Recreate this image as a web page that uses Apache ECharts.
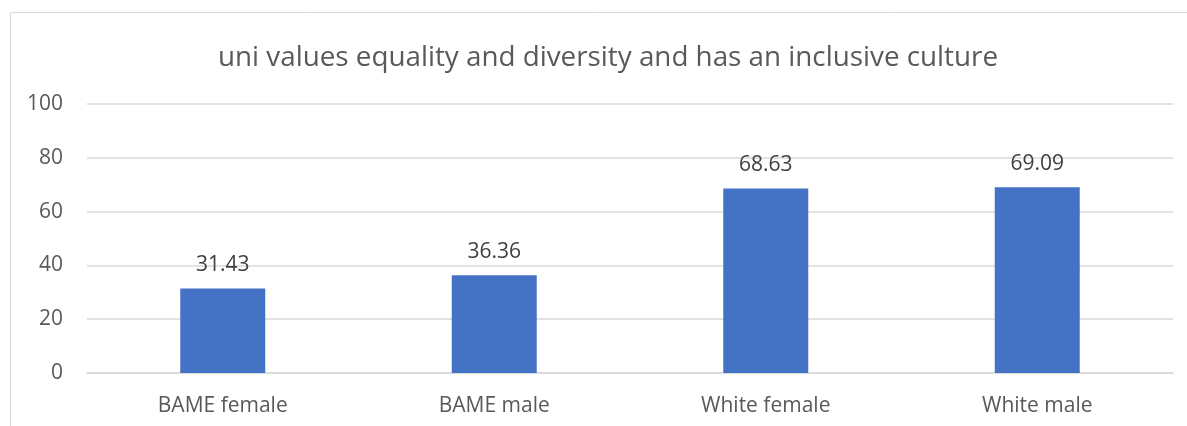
<!DOCTYPE html>
<html>
<head>
<meta charset="utf-8">
<script src="https://cdn.jsdelivr.net/npm/echarts@6/dist/echarts.min.js"></script>
<style>
  html, body { margin: 0; padding: 0; background: #fff; }
  #chart { width: 1187px; height: 426px; }
</style>
</head>
<body>
<div id="chart"></div>
<script>
const categories = ['BAME female', 'BAME male', 'White female', 'White male']
const values = [31.43, 36.36, 68.63, 69.09]
const titleText = 'uni values equality and diversity and has an inclusive culture'

const chart = echarts.init(document.getElementById('chart'))
const font = 'Open Sans, Noto Sans, sans-serif'

chart.setOption({
  animation: false,
  title: {
    text: titleText,
    left: 603,
    textAlign: 'center',
    top: 39,
    textStyle: {
      color: '#595959',
      fontSize: 27.8,
      fontWeight: 'normal',
      fontFamily: font
    }
  },
  // chart border, runs off the right and bottom edges
  graphic: [{
    type: 'rect',
    shape: { x: 10.5, y: 12.5, width: 1200, height: 430 },
    style: { fill: 'none', stroke: '#d9d9d9', lineWidth: 1 },
    silent: true
  }],
  grid: { left: 87, right: 14, top: 104, bottom: 53 },
  xAxis: {
    type: 'category',
    data: categories,
    axisLine: { lineStyle: { color: '#d9d9d9', width: 1.5 } },
    axisTick: { show: false },
    axisLabel: {
      color: '#595959',
      fontSize: 21,
      fontFamily: font,
      margin: 23
    }
  },
  yAxis: {
    type: 'value',
    min: 0,
    max: 100,
    interval: 20,
    axisLine: { show: false },
    axisTick: { show: false },
    splitLine: { lineStyle: { color: '#d9d9d9', width: 1.5 } },
    axisLabel: {
      color: '#595959',
      fontSize: 21,
      fontFamily: font,
      margin: 24
    }
  },
  series: [{
    type: 'bar',
    data: values,
    barWidth: 85,
    itemStyle: { color: '#4472C4' },
    label: {
      show: true,
      position: 'top',
      distance: 13,
      color: '#404040',
      fontSize: 21,
      fontFamily: font,
      formatter: p => p.value.toFixed(2)
    }
  }]
})
</script>
</body>
</html>
